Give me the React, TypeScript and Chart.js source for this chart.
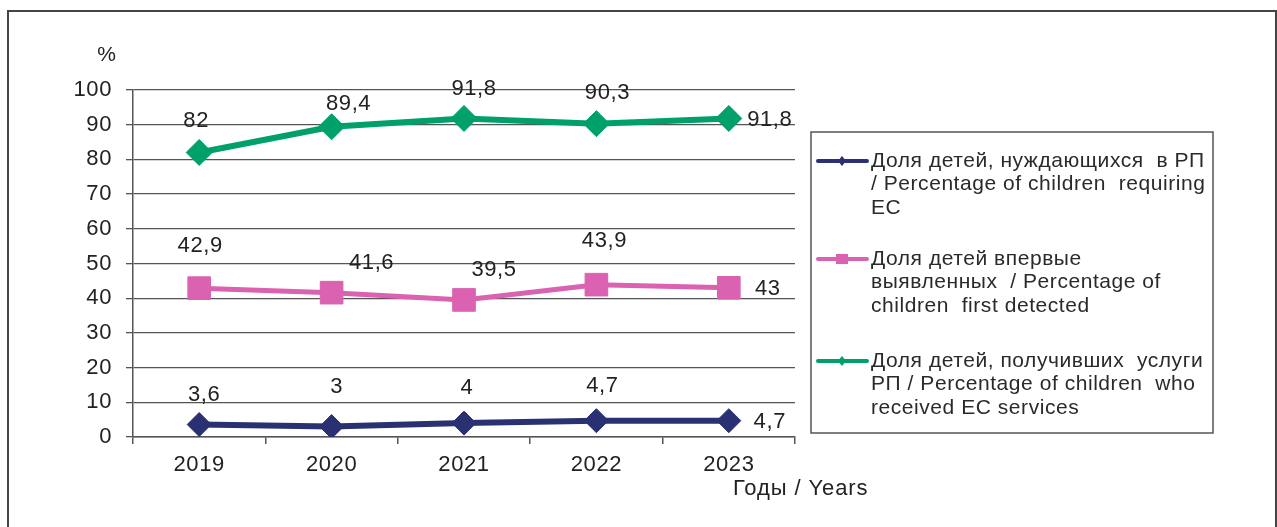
import React, { useEffect, useRef } from "react";
import { Chart, registerables } from "chart.js";

Chart.register(...registerables);

const years = ["2019", "2020", "2021", "2022", "2023"];
const requiring = [3.6, 3, 4, 4.7, 4.7];
const firstDetected = [42.9, 41.6, 39.5, 43.9, 43];
const receivedServices = [82, 89.4, 91.8, 90.3, 91.8];
const yTicks = [0, 10, 20, 30, 40, 50, 60, 70, 80, 90, 100];

const legendLines = [
  ["Доля детей, нуждающихся  в РП", "/ Percentage of children  requiring", "EC"],
  ["Доля детей впервые", "выявленных  / Percentage of", "children  first detected"],
  ["Доля детей, получивших  услуги", "РП / Percentage of children  who", "received EC services"],
];

const NAVY = "#2A3173";
const PINK = "#DA62B1";
const GREEN = "#00A06B";
const TEXT = "#222";
const FONT = "'Liberation Sans', Arial, sans-serif";

// label placement offsets (px) relative to each point
const labelOffsets = [
  [[5, -30], [5, -40], [3, -35], [6, -35], [41, 1]],
  [[1, -42], [40, -30], [30, -30], [8, -44], [39, 1]],
  [[-3, -32], [17, -23], [10, -30], [11, -31], [41, 1]],
];

const fmt = (v: number) => String(v).replace(".", ",");

const labelsPlugin = {
  id: "pointLabels",
  beforeDraw(chart: any) {
    (chart.ctx as any).letterSpacing = "0.6px";
  },
  afterDatasetsDraw(chart: any) {
    const ctx = chart.ctx;
    ctx.save();
    ctx.font = `22px ${FONT}`;
    ctx.fillStyle = TEXT;
    ctx.textAlign = "center";
    ctx.textBaseline = "middle";
    chart.data.datasets.forEach((ds: any, di: number) => {
      const meta = chart.getDatasetMeta(di);
      meta.data.forEach((pt: any, i: number) => {
        const off = labelOffsets[di][i];
        ctx.fillText(fmt(ds.data[i]), pt.x + off[0], pt.y + off[1]);
      });
    });
    ctx.restore();
  },
  afterDraw(chart: any) {
    const ctx = chart.ctx;
    ctx.save();
    // outer frame
    ctx.strokeStyle = "#444";
    ctx.lineWidth = 2;
    ctx.strokeRect(8, 11, 1268, 600);
    // axis titles
    ctx.fillStyle = TEXT;
    ctx.font = `21px ${FONT}`;
    ctx.textAlign = "center";
    ctx.textBaseline = "middle";
    ctx.fillText("%", 107, 55);
    ctx.font = `22px ${FONT}`;
    ctx.letterSpacing = "0.9px";
    ctx.textAlign = "left";
    ctx.fillText("Годы / Years", 733, 489);
    // legend box
    ctx.strokeStyle = "#555";
    ctx.lineWidth = 1.5;
    ctx.strokeRect(811, 132, 402, 301);
    const colors = [NAVY, PINK, GREEN];
    const tops = [161, 259, 361];
    ctx.font = `21px ${FONT}`;
    ctx.letterSpacing = "0.55px";
    legendLines.forEach((lines, gi) => {
      const y0 = tops[gi];
      ctx.strokeStyle = colors[gi];
      ctx.lineWidth = 4;
      ctx.lineCap = "round";
      ctx.beginPath();
      ctx.moveTo(818, y0);
      ctx.lineTo(867, y0);
      ctx.stroke();
      ctx.fillStyle = colors[gi];
      ctx.beginPath();
      if (gi === 1) {
        ctx.rect(836, y0 - 5, 12, 10);
      } else {
        ctx.moveTo(842, y0 - 5);
        ctx.lineTo(846, y0);
        ctx.lineTo(842, y0 + 5);
        ctx.lineTo(838, y0);
        ctx.closePath();
      }
      ctx.fill();
      ctx.fillStyle = "#2a2a2a";
      lines.forEach((t, li) => {
        ctx.fillText(t, 871, y0 + li * 23.5);
      });
    });
    ctx.restore();
  },
};

export default function App() {
  const ref = useRef<HTMLCanvasElement>(null);
  useEffect(() => {
    if (!ref.current) return;
    const chart = new Chart(ref.current, {
      type: "line",
      data: {
        labels: years,
        datasets: [
          {
            label: legendLines[0].join(" "),
            data: requiring,
            borderColor: NAVY,
            backgroundColor: NAVY,
            borderWidth: 6,
            pointStyle: "rectRot",
            pointRadius: 12,
            pointBorderWidth: 1,
            tension: 0,
          },
          {
            label: legendLines[1].join(" "),
            data: firstDetected,
            borderColor: PINK,
            backgroundColor: PINK,
            borderWidth: 5,
            pointStyle: "rect",
            pointRadius: 16,
            pointBorderWidth: 1,
            tension: 0,
          },
          {
            label: legendLines[2].join(" "),
            data: receivedServices,
            borderColor: GREEN,
            backgroundColor: GREEN,
            borderWidth: 6,
            pointStyle: "rectRot",
            pointRadius: 13,
            pointBorderWidth: 1,
            tension: 0,
          },
        ],
      },
      options: {
        animation: false,
        responsive: true,
        maintainAspectRatio: false,
        layout: { padding: { left: 0, top: 90, right: 482, bottom: 0 } },
        plugins: { legend: { display: false }, tooltip: { enabled: false } },
        scales: {
          x: {
            type: "category",
            offset: true,
            afterFit: (s: any) => {
              s.height = 90;
            },
            grid: {
              display: true,
              drawOnChartArea: false,
              drawTicks: true,
              tickLength: 7,
              offset: true,
              color: "#555",
              lineWidth: 1.5,
            },
            border: { display: true, color: "#555", width: 1.5 },
            ticks: {
              color: TEXT,
              font: { family: FONT, size: 22 },
              padding: 8,
            },
          },
          y: {
            min: 0,
            max: 100,
            afterFit: (s: any) => {
              s.width = 133;
            },
            afterBuildTicks: (s: any) => {
              s.ticks = yTicks.map((v) => ({ value: v }));
            },
            grid: {
              color: "#555",
              lineWidth: 1.3,
              tickLength: 7,
              drawTicks: true,
            },
            border: { display: true, color: "#555", width: 1.5 },
            ticks: {
              color: TEXT,
              font: { family: FONT, size: 22 },
              padding: 14,
            },
          },
        },
      },
      plugins: [labelsPlugin],
    });
    return () => chart.destroy();
  }, []);
  return (
    <div style={{ position: "absolute", left: 0, top: 0, width: 1277, height: 527 }}>
      <canvas ref={ref} />
    </div>
  );
}
